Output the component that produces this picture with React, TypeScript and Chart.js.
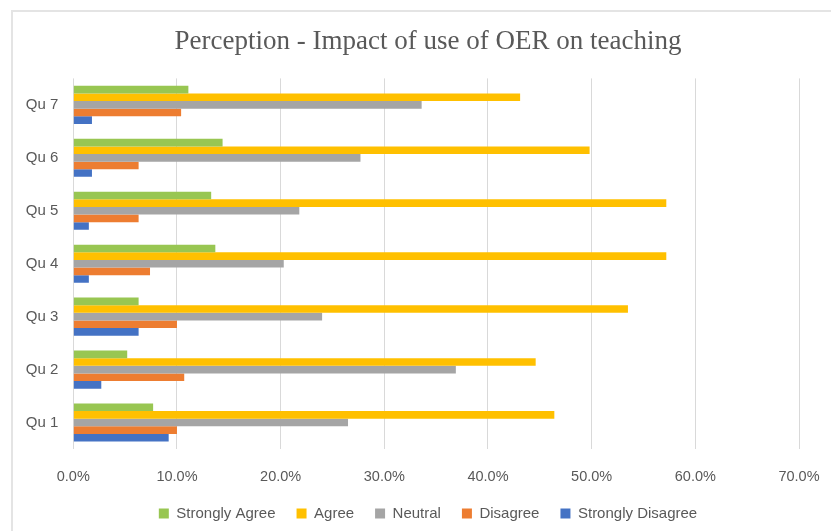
import React, { useEffect, useRef } from 'react';
import { Chart, registerables } from 'chart.js';

Chart.register(...registerables);

const categories = ['Qu 7', 'Qu 6', 'Qu 5', 'Qu 4', 'Qu 3', 'Qu 2', 'Qu 1'];
const stronglyAgree = [11.1, 14.4, 13.3, 13.7, 6.3, 5.2, 7.7];
const agree = [43.1, 49.8, 57.2, 57.2, 53.5, 44.6, 46.4];
const neutral = [33.6, 27.7, 21.8, 20.3, 24.0, 36.9, 26.5];
const disagree = [10.4, 6.3, 6.3, 7.4, 10.0, 10.7, 10.0];
const stronglyDisagree = [1.8, 1.8, 1.5, 1.5, 6.3, 2.7, 9.2];
const seriesNames = ['Strongly Agree', 'Agree', 'Neutral', 'Disagree', 'Strongly Disagree'];
const seriesColors = ['#98C652', '#FFC000', '#A5A5A5', '#ED7D31', '#4472C4'];
const xMin = 0;
const xMax = 70;
const xStep = 10;
const titleText = 'Perception - Impact of use of OER on teaching';

export default function App() {
  const canvasRef = useRef<HTMLCanvasElement | null>(null);

  useEffect(() => {
    const canvas = canvasRef.current;
    if (!canvas) return;
    const values = [stronglyAgree, agree, neutral, disagree, stronglyDisagree];
    const chart = new Chart(canvas, {
      type: 'bar',
      data: {
        labels: categories,
        datasets: seriesNames.map((name, i) => ({
          label: name,
          data: values[i],
          backgroundColor: seriesColors[i],
          borderWidth: 0,
          barPercentage: 1,
          categoryPercentage: 0.72,
        })),
      },
      options: {
        indexAxis: 'y',
        responsive: false,
        animation: false,
        devicePixelRatio: 1,
        layout: { padding: { left: 0, right: 0, top: 0, bottom: 0 } },
        plugins: {
          title: {
            display: true,
            text: titleText,
            color: '#595959',
            font: { family: '"Liberation Serif", "Times New Roman", serif', size: 27, weight: 'normal', lineHeight: 1.2 },
            padding: { top: 15, bottom: 20 },
          },
          legend: {
            position: 'bottom',
            labels: {
              boxWidth: 10,
              boxHeight: 10,
              padding: 21,
              color: '#595959',
              font: { family: '"Liberation Sans", Arial, sans-serif', size: 15 },
            },
          },
          tooltip: { enabled: false },
        },
        scales: {
          x: {
            min: xMin,
            max: xMax,
            ticks: {
              stepSize: xStep,
              color: '#595959',
              padding: 19,
              font: { family: '"Liberation Sans", Arial, sans-serif', size: 14.5 },
              callback: (v: any) => Number(v).toFixed(1) + '%',
            },
            grid: { color: '#D9D9D9', lineWidth: 1, drawTicks: false },
            border: { display: false },
            afterFit: (scale: any) => {
              scale.height = 36;
            },
          },
          y: {
            ticks: {
              color: '#595959',
              padding: 15,
              font: { family: '"Liberation Sans", Arial, sans-serif', size: 15 },
            },
            grid: { display: false, drawTicks: false },
            border: { display: false },
            afterFit: (scale: any) => {
              scale.width = 61.3;
            },
          },
          yRight: {
            type: 'linear',
            axis: 'y',
            position: 'right',
            display: true,
            ticks: { display: false },
            grid: { display: false, drawTicks: false },
            border: { display: false },
            afterFit: (scale: any) => {
              scale.width = 45;
            },
          },
        },
      },
    });
    return () => chart.destroy();
  }, []);

  return (
    <div
      style={{
        position: 'fixed',
        left: 0,
        top: 0,
        width: 831,
        height: 531,
        overflow: 'hidden',
        background: '#FFFFFF',
      }}
    >
      <div
        style={{
          position: 'absolute',
          left: 11,
          top: 10,
          width: 900,
          height: 600,
          border: '2px solid #E4E4E4',
          boxSizing: 'border-box',
        }}
      />
      <canvas
        ref={canvasRef}
        width={832}
        height={520}
        style={{ position: 'absolute', left: 12, top: 11, width: 832, height: 520 }}
      />
    </div>
  );
}
